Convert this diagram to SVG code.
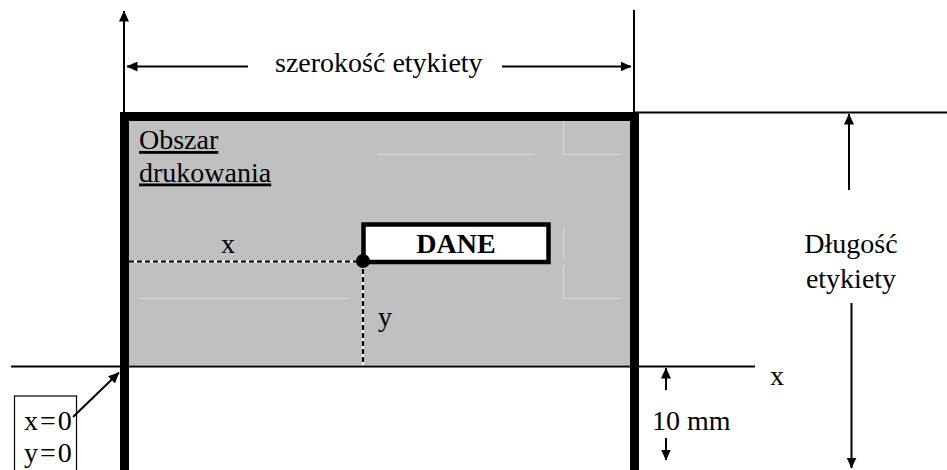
<svg xmlns="http://www.w3.org/2000/svg" width="947" height="470" viewBox="0 0 947 470">
<style>
text{font-family:"Liberation Serif","Times New Roman",serif;font-size:28px;fill:#000}
.thin{stroke:#000;stroke-width:2;fill:none}
.thick{stroke:#000;stroke-width:9;fill:none}
.faint{stroke:#dadada;stroke-width:1;fill:none}
.arr{stroke:#000;stroke-width:2;fill:none;marker-end:url(#ah)}
.u{text-decoration:underline}
.sp{letter-spacing:2px}
</style>
<defs>
<marker id="ah" viewBox="0 0 11 10" refX="10.5" refY="5" markerWidth="11" markerHeight="10" markerUnits="userSpaceOnUse" orient="auto">
<path d="M0,0 L11,5 L0,10 z" fill="#000"/>
</marker>
</defs>
<rect width="947" height="470" fill="#fff"/>
<g id="print-area">
<rect x="129" y="121" width="501" height="244" fill="#c0c0c0"/>
<path class="faint" d="M378,154.5H535 M563.5,121V154.5H621 M563.5,227V259 M563.5,265V298.5H621 M139,298.5H349"/>
<text x="139" y="149" class="u">Obszar</text>
<text x="139" y="181.5" class="u">drukowania</text>
</g>
<g id="label-frame">
<path class="thick" d="M124.5,470V116.5H634.5V470"/>
</g>
<g id="dane">
<rect x="363.5" y="224.5" width="185" height="37.5" fill="#fff" stroke="#000" stroke-width="4.5"/>
<text x="456" y="253.3" text-anchor="middle" font-weight="bold">DANE</text>
</g>
<g id="origin">
<rect x="14.5" y="396" width="62" height="80" fill="#fff" stroke="#000" stroke-width="1.2"/>
<text x="24" y="430" class="sp">x=0</text>
<text x="24" y="462" class="sp">y=0</text>
</g>
<g id="labels">
<text x="275" y="72">szerokość etykiety</text>
<text x="851" y="253" text-anchor="middle">Długość</text>
<text x="851" y="288" text-anchor="middle">etykiety</text>
<text x="652" y="430">10 mm</text>
<text x="770" y="385">x</text>
<text x="228" y="253" text-anchor="middle">x</text>
<text x="378" y="326">y</text>
</g>
<g id="connectors">
<path class="thin" d="M11,366.5H755"/>
<path class="thin" d="M634,10V112"/>
<path class="thin" d="M635,112.5H947"/>
<path class="arr" d="M124,112V11"/>
<path class="arr" d="M248,66.5H127"/>
<path class="arr" d="M502,66.5H631"/>
<path class="arr" d="M849,190V114"/>
<path class="arr" d="M851.5,303V468"/>
<path class="arr" d="M666,390V368"/>
<path class="arr" d="M666,438V460"/>
<path class="arr" d="M73,417L119,372.5"/>
<path d="M129,261.5H363 M363,261V365" stroke="#fff" stroke-width="2.2" fill="none"/>
<path d="M129,261.5H363 M363,261V365" stroke="#000" stroke-width="2.2" stroke-dasharray="5,3" fill="none"/>
<circle cx="363" cy="261" r="7" fill="#000"/>
</g>
</svg>
